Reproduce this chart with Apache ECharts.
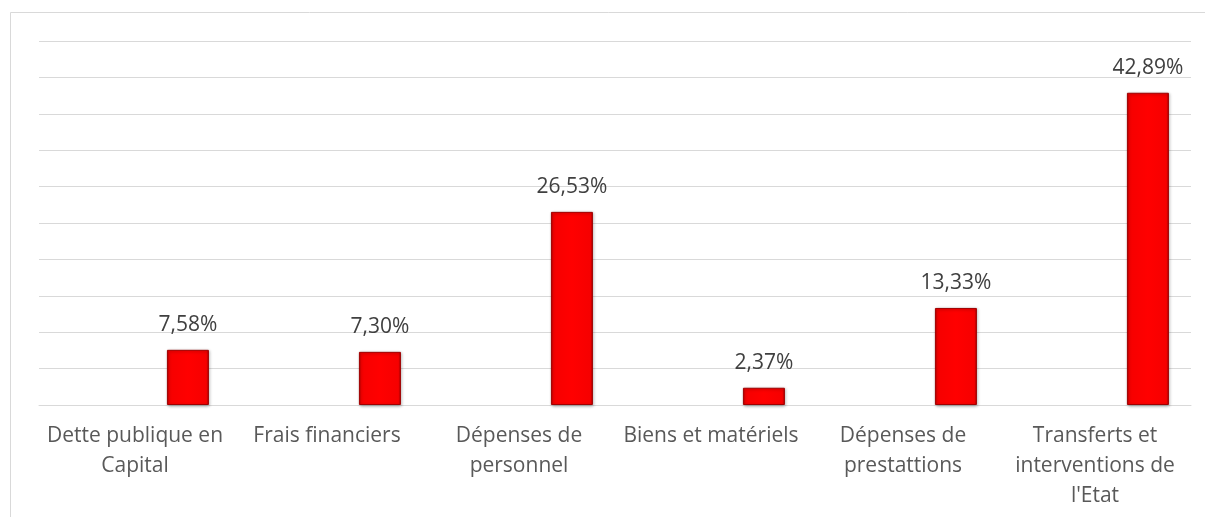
<!DOCTYPE html>
<html>
<head>
<meta charset="utf-8">
<title>Répartition des dépenses</title>
<script src="https://cdn.jsdelivr.net/npm/echarts@6/dist/echarts.min.js"></script>
<style>
  html, body { margin: 0; padding: 0; background: #ffffff; }
  #chart { width: 1205px; height: 517px; }
</style>
</head>
<body>
<div id="chart"></div>
<script>
// Spending categories (line breaks as shown under the axis)
var categories = [
  "Dette publique en\nCapital",
  "Frais financiers",
  "Dépenses de\npersonnel",
  "Biens et matériels",
  "Dépenses de\nprestattions",
  "Transferts et\ninterventions de\nl'Etat"
];

// Share of total spending, in percent
var shares = [7.58, 7.30, 26.53, 2.37, 13.33, 42.89];

// Value axis range
var axisMin = 0;
var axisMax = 50;
var axisStep = 5;

var chart = echarts.init(document.getElementById('chart'), null, { renderer: 'canvas' });

var barFill = new echarts.graphic.LinearGradient(0, 0, 1, 0, [
  { offset: 0, color: '#c00000' },
  { offset: 0.06, color: '#f60000' },
  { offset: 0.5, color: '#ff0000' },
  { offset: 0.94, color: '#f60000' },
  { offset: 1, color: '#b00000' }
]);

var option = {
  backgroundColor: '#ffffff',
  animation: false,
  textStyle: { fontFamily: 'Open Sans' },
  graphic: [
    {
      type: 'rect',
      shape: { x: 10.5, y: 12.5, width: 1400, height: 700 },
      style: { fill: 'none', stroke: '#d9d9d9', lineWidth: 1 },
      silent: true,
      z: -10
    }
  ],
  grid: { left: 39, right: 14, top: 41, bottom: 112, containLabel: false },
  xAxis: {
    type: 'category',
    data: categories,
    axisLine: { show: true, lineStyle: { color: '#d9d9d9', width: 1 } },
    axisTick: { show: false },
    axisLabel: {
      interval: 0,
      margin: 16,
      color: '#595959',
      fontSize: 21,
      lineHeight: 30,
      fontFamily: 'Open Sans'
    }
  },
  yAxis: {
    type: 'value',
    min: axisMin,
    max: axisMax,
    interval: axisStep,
    axisLabel: { show: false },
    axisLine: { show: false },
    axisTick: { show: false },
    splitLine: { show: true, lineStyle: { color: '#d9d9d9', width: 1 } }
  },
  series: [
    {
      // empty companion series keeps the visible bars in the right half of each slot
      name: 'vide',
      type: 'bar',
      barWidth: 42,
      barGap: '152%',
      data: categories.map(function () { return '-'; }),
      silent: true
    },
    {
      name: 'Part',
      type: 'bar',
      barWidth: 42,
      barGap: '152%',
      data: shares,
      itemStyle: {
        color: barFill,
        borderColor: '#a00000',
        borderWidth: 1,
        shadowColor: 'rgba(0,0,0,0.3)',
        shadowBlur: 3,
        shadowOffsetX: 1,
        shadowOffsetY: 1
      },
      label: {
        show: true,
        position: 'top',
        distance: 14,
        color: '#404040',
        fontSize: 21,
        fontFamily: 'Open Sans',
        formatter: function (p) {
          return p.value.toFixed(2).replace('.', ',') + '%';
        }
      }
    }
  ]
};

chart.setOption(option);
</script>
</body>
</html>
